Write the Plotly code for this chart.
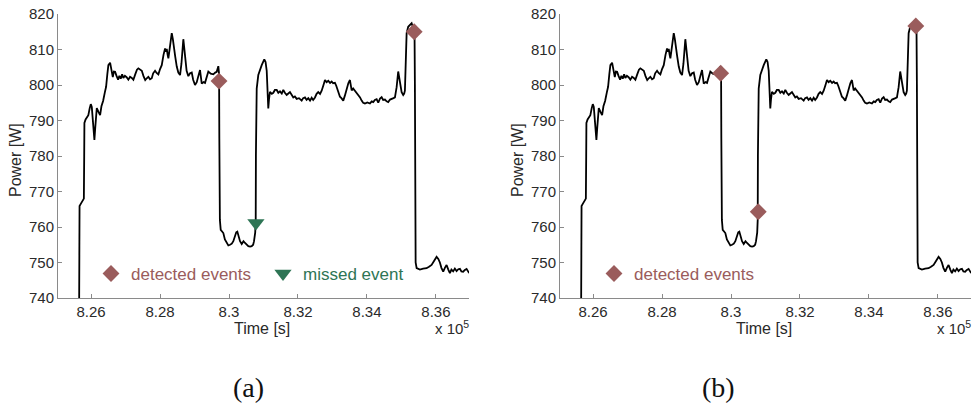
import plotly.graph_objects as go

# ---- data (time in units of 1e5 s, power in W) ----
time_x1e5 = [
    8.25652, 8.25652, 8.25665, 8.25700, 8.25740, 8.25790, 8.25800, 8.25806, 8.25840, 8.25880,
    8.25920, 8.25960, 8.25991, 8.26020, 8.26050, 8.26080, 8.26096, 8.26120, 8.26165, 8.26210,
    8.26261, 8.26300, 8.26348, 8.26400, 8.26435, 8.26470, 8.26501, 8.26551, 8.26590, 8.26629,
    8.26660, 8.26696, 8.26740, 8.26783, 8.26820, 8.26860, 8.26900, 8.26936, 8.26980, 8.27030,
    8.27081, 8.27130, 8.27180, 8.27226, 8.27280, 8.27330, 8.27371, 8.27420, 8.27470, 8.27520,
    8.27570, 8.27614, 8.27660, 8.27710, 8.27759, 8.27800, 8.27855, 8.27900, 8.27951, 8.28000,
    8.28049, 8.28100, 8.28145, 8.28170, 8.28194, 8.28220, 8.28241, 8.28290, 8.28339, 8.28370,
    8.28406, 8.28440, 8.28484, 8.28530, 8.28580, 8.28620, 8.28675, 8.28700, 8.28725, 8.28770,
    8.28820, 8.28870, 8.28919, 8.28960, 8.29014, 8.29064, 8.29110, 8.29159, 8.29209, 8.29260,
    8.29304, 8.29350, 8.29400, 8.29470, 8.29545, 8.29600, 8.29643, 8.29690, 8.29712, 8.29719,
    8.29725, 8.29735, 8.29759, 8.29800, 8.29835, 8.29880, 8.29933, 8.29980, 8.30029, 8.30080,
    8.30125, 8.30174, 8.30210, 8.30241, 8.30270, 8.30319, 8.30368, 8.30420, 8.30464, 8.30510,
    8.30559, 8.30610, 8.30658, 8.30700, 8.30725, 8.30760, 8.30774, 8.30780, 8.30790, 8.30803,
    8.30849, 8.30900, 8.30948, 8.31023, 8.31060, 8.31093, 8.31115, 8.31139, 8.31160, 8.31188,
    8.31240, 8.31284, 8.31330, 8.31383, 8.31430, 8.31478, 8.31530, 8.31574, 8.31620, 8.31672,
    8.31720, 8.31768, 8.31820, 8.31864, 8.31910, 8.31962, 8.32030, 8.32107, 8.32150, 8.32203,
    8.32250, 8.32299, 8.32350, 8.32397, 8.32440, 8.32493, 8.32540, 8.32588, 8.32640, 8.32687,
    8.32740, 8.32783, 8.32830, 8.32878, 8.32930, 8.32977, 8.33020, 8.33072, 8.33110, 8.33139,
    8.33180, 8.33217, 8.33260, 8.33313, 8.33360, 8.33412, 8.33460, 8.33507, 8.33530, 8.33557,
    8.33600, 8.33652, 8.33700, 8.33748, 8.33800, 8.33846, 8.33890, 8.33942, 8.34010, 8.34087,
    8.34140, 8.34183, 8.34230, 8.34281, 8.34328, 8.34380, 8.34426, 8.34470, 8.34522, 8.34570,
    8.34617, 8.34670, 8.34716, 8.34770, 8.34812, 8.34861, 8.34907, 8.34957, 8.35006, 8.35052,
    8.35080, 8.35101, 8.35125, 8.35151, 8.35197, 8.35250, 8.35296, 8.35342, 8.35380, 8.35391,
    8.35400, 8.35412, 8.35441, 8.35490, 8.35536, 8.35630, 8.35730, 8.35800, 8.35875, 8.35950,
    8.36020, 8.36070, 8.36116, 8.36160, 8.36212, 8.36260, 8.36310, 8.36360, 8.36406, 8.36450,
    8.36501, 8.36550, 8.36600, 8.36650, 8.36696, 8.36740, 8.36791, 8.36840, 8.36890, 8.36965,
]
power_w = [
    735.0, 760.0, 765.9, 766.5, 767.2, 768.0, 780.0, 789.3, 790.3, 790.8,
    791.5, 793.5, 794.6, 793.8, 789.0, 786.0, 784.5, 788.0, 793.5, 792.5,
    791.5, 794.0, 795.5, 798.0, 799.5, 803.0, 805.6, 806.3, 803.5, 802.2,
    803.8, 803.7, 802.5, 801.5, 802.6, 801.8, 803.0, 802.0, 802.6, 802.2,
    801.5, 802.3, 802.0, 801.5, 803.0, 804.3, 804.7, 804.4, 804.0, 802.5,
    801.4, 801.9, 802.3, 801.6, 801.9, 803.3, 804.0, 803.4, 803.0, 804.5,
    805.6, 808.5, 810.3, 809.4, 810.2, 808.5, 807.5, 811.0, 814.6, 813.0,
    811.0, 808.0, 805.2, 803.5, 802.8, 806.0, 812.9, 810.0, 807.2, 804.0,
    802.5, 803.3, 803.5, 801.5, 800.0, 800.8, 802.5, 804.2, 800.4, 800.8,
    800.6, 802.0, 803.8, 803.2, 803.0, 803.5, 803.7, 805.3, 803.0, 785.0,
    770.0, 762.0, 759.2, 758.5, 758.3, 756.5, 755.4, 754.8, 755.0, 755.3,
    756.0, 757.7, 758.5, 758.7, 757.5, 756.0, 755.2, 756.0, 755.5, 755.0,
    754.6, 754.5, 754.6, 755.0, 756.0, 758.5, 762.0, 780.0, 790.0, 799.0,
    802.8, 804.5, 805.6, 807.2, 806.5, 804.0, 798.0, 793.4, 796.0, 798.1,
    797.5, 797.8, 798.6, 798.6, 797.8, 798.2, 797.6, 798.6, 797.8, 797.2,
    797.6, 798.0, 797.2, 796.5, 796.8, 796.1, 796.3, 795.6, 796.3, 796.5,
    795.8, 796.3, 795.6, 796.4, 795.8, 796.5, 797.5, 798.0, 797.5, 798.4,
    800.0, 801.4, 800.8, 801.2, 800.6, 801.0, 800.5, 800.6, 799.8, 799.0,
    797.5, 796.7, 796.3, 795.6, 797.0, 799.0, 800.5, 801.4, 799.5, 798.5,
    799.0, 798.4, 797.8, 797.3, 796.5, 795.6, 795.0, 794.8, 795.1, 794.8,
    795.4, 795.2, 795.8, 796.0, 795.0, 796.2, 796.6, 795.8, 795.9, 795.4,
    795.2, 795.9, 796.0, 796.3, 796.5, 799.4, 803.8, 801.0, 798.0, 797.2,
    797.6, 798.4, 806.0, 814.6, 816.4, 816.8, 817.4, 816.0, 815.5, 800.0,
    775.0, 750.0, 748.4, 748.2, 748.0, 748.3, 748.4, 748.8, 749.3, 750.5,
    751.6, 751.0, 750.0, 748.5, 747.4, 748.5, 749.3, 748.0, 747.0, 748.0,
    747.5, 748.3, 747.6, 748.1, 748.2, 747.5, 747.4, 747.9, 748.2, 747.0,
]

# events, panel (a)
a_detected_t = [8.2971, 8.3537]
a_detected_p = [801.1, 815.0]
a_missed_t = [8.3078]
a_missed_p = [761.1]
# events, panel (b)
b_detected_t = [8.2970, 8.3079, 8.3536]
b_detected_p = [803.3, 764.3, 816.6]

x_tick_vals = [8.26, 8.28, 8.30, 8.32, 8.34, 8.36]
x_tick_text = ["8.26", "8.28", "8.3", "8.32", "8.34", "8.36"]
y_tick_vals = [740, 750, 760, 770, 780, 790, 800, 810, 820]

DET_COLOR = "#9a5c5c"
MISS_COLOR = "#2e7555"
FONT = "Liberation Sans, Arial, sans-serif"

W, H = 972, 414

def px_x(p):
    return p / W

def px_y(p):
    return 1 - p / H

fig = go.Figure()

# panel (a)
fig.add_trace(go.Scatter(x=time_x1e5, y=power_w, mode="lines",
                         line=dict(color="black", width=1.8),
                         xaxis="x", yaxis="y", showlegend=False, hoverinfo="skip"))
fig.add_trace(go.Scatter(x=a_detected_t, y=a_detected_p, mode="markers",
                         marker=dict(symbol="diamond", size=13, color=DET_COLOR),
                         xaxis="x", yaxis="y", name="detected events", legend="legend"))
fig.add_trace(go.Scatter(x=a_missed_t, y=a_missed_p, mode="markers",
                         marker=dict(symbol="triangle-down", size=15, color=MISS_COLOR),
                         xaxis="x", yaxis="y", name="missed event", legend="legend2"))
# panel (b)
fig.add_trace(go.Scatter(x=time_x1e5, y=power_w, mode="lines",
                         line=dict(color="black", width=1.8),
                         xaxis="x2", yaxis="y2", showlegend=False, hoverinfo="skip"))
fig.add_trace(go.Scatter(x=b_detected_t, y=b_detected_p, mode="markers",
                         marker=dict(symbol="diamond", size=13, color=DET_COLOR),
                         xaxis="x2", yaxis="y2", name="detected events", legend="legend3"))

ydom = [px_y(298), px_y(14)]
xaxis_common = dict(range=[8.2504, 8.3696], tickvals=x_tick_vals, ticktext=x_tick_text,
                    automargin=False,
                    showgrid=False, zeroline=False, showline=True, linecolor="#8a8a8a",
                    linewidth=1, ticks="inside", ticklen=4, tickcolor="#8a8a8a",
                    tickfont=dict(family=FONT, size=15, color="#2a2a2a"))
yaxis_common = dict(range=[740, 820], tickvals=y_tick_vals, domain=ydom,
                    automargin=False,
                    showgrid=False, zeroline=False, showline=True, linecolor="#8a8a8a",
                    linewidth=1, ticks="inside", ticklen=4, tickcolor="#8a8a8a",
                    tickfont=dict(family=FONT, size=15, color="#2a2a2a"))

legend_common = dict(orientation="h", bgcolor="rgba(0,0,0,0)", borderwidth=0,
                     xanchor="left", yanchor="middle", y=px_y(274))

fig.update_layout(
    width=W, height=H,
    margin=dict(l=0, r=0, t=0, b=0, autoexpand=False),
    paper_bgcolor="white", plot_bgcolor="white",
    xaxis=dict(domain=[px_x(58), px_x(469)], anchor="y", **xaxis_common),
    yaxis=dict(anchor="x", **yaxis_common),
    xaxis2=dict(domain=[px_x(560), px_x(971)], anchor="y2", **xaxis_common),
    yaxis2=dict(anchor="x2", **yaxis_common),
    legend=dict(x=px_x(91), font=dict(family=FONT, size=17, color=DET_COLOR), **legend_common),
    legend2=dict(x=px_x(263), font=dict(family=FONT, size=17, color=MISS_COLOR), **legend_common),
    legend3=dict(x=px_x(594), font=dict(family=FONT, size=17, color=DET_COLOR), **legend_common),
    showlegend=True,
)

annos = []
for off in (0, 502):
    annos.append(dict(text="Time [s]", x=px_x(262 + off), y=px_y(328), xref="paper", yref="paper",
                      showarrow=False, xanchor="center", yanchor="middle",
                      font=dict(family=FONT, size=16, color="#2a2a2a")))
    annos.append(dict(text="x 10<sup>5</sup>", x=px_x(433 + off), y=px_y(327), xref="paper", yref="paper",
                      showarrow=False, xanchor="left", yanchor="middle",
                      font=dict(family=FONT, size=15, color="#2a2a2a")))
    annos.append(dict(text="Power [W]", x=px_x(16 + off), y=px_y(160), xref="paper", yref="paper",
                      showarrow=False, xanchor="center", yanchor="middle", textangle=-90,
                      font=dict(family=FONT, size=16, color="#2a2a2a")))
for label, cx in (("(a)", 248), ("(b)", 718)):
    annos.append(dict(text=label, x=px_x(cx), y=px_y(387), xref="paper", yref="paper",
                      showarrow=False, xanchor="center", yanchor="middle",
                      font=dict(family="Liberation Serif, DejaVu Serif, serif", size=28, color="#111111")))
fig.update_layout(annotations=annos)

fig.write_html("out.html", config={"displayModeBar": False},
               post_script="document.body.style.margin='0';document.body.style.overflow='hidden';")
